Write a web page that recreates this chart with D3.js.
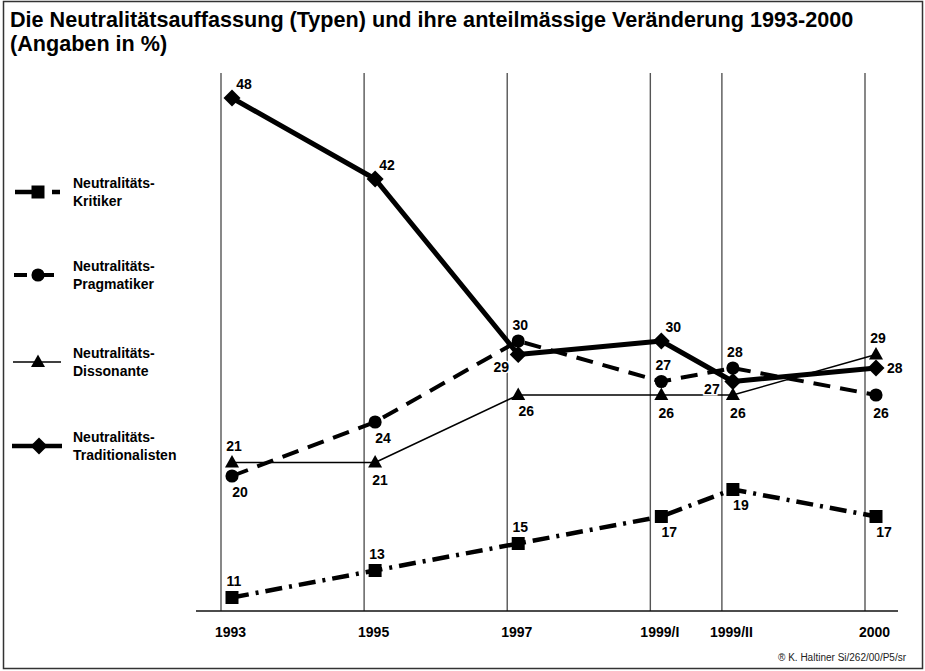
<!DOCTYPE html>
<html lang="de">
<head>
<meta charset="UTF-8">
<title>Neutralitätsauffassung 1993-2000</title>
<style>
  body { margin: 0; background: #fff; }
  svg text { font-family: "Liberation Sans", Arial, sans-serif; }
</style>
</head>
<body>
<div id="chart"></div>
<script src="https://d3js.org/d3.v7.min.js"></script>
<script>
// categories on the x axis and their slot on the (irregular) time line
const categories = ["1993", "1995", "1997", "1999/I", "1999/II", "2000"];
const slots = [0, 2, 4, 6, 7, 9];

// values in %
const kritiker = [11, 13, 15, 17, 19, 17];
const pragmatiker = [20, 24, 30, 27, 28, 26];
const dissonante = [21, 21, 26, 26, 26, 29];
const traditionalisten = [48, 42, 29, 30, 27, 28];

// where each value label sits relative to its marker
const kritikerLabels = ["t", "t", "t", "br", "br", "br"];
const pragmatikerLabels = ["br", "br", "t", "t", "t", "b"];
const dissonanteLabels = ["t", "b", "br", "b", "b", "t"];
const traditionalistenLabels = ["tr", "tr", "bl", "tr", "l", "r"];

const W = 925, H = 671;
const svg = d3.select("#chart").append("svg")
    .attr("width", W).attr("height", H);

svg.append("rect")
    .attr("x", 3.5).attr("y", 1.5)
    .attr("width", W - 6).attr("height", H - 4)
    .attr("fill", "#fff").attr("stroke", "#333").attr("stroke-width", 1.5);

// title
svg.append("text").attr("x", 10).attr("y", 27)
    .attr("font-size", 21.6).attr("font-weight", "bold")
    .text("Die Neutralitätsauffassung (Typen) und ihre anteilmässige Veränderung 1993-2000");
svg.append("text").attr("x", 10).attr("y", 51)
    .attr("font-size", 21.6).attr("font-weight", "bold")
    .text("(Angaben in %)");

const x = d3.scaleLinear().domain([0, 9]).range([221, 865]);
const y = d3.scaleLinear().domain([10, 48]).range([611, 98]);
const markerShift = 11;   // markers sit a little right of the grid lines

// grid lines
svg.append("g").selectAll("line").data(slots).join("line")
    .attr("x1", d => x(d)).attr("x2", d => x(d))
    .attr("y1", 73).attr("y2", y(10))
    .attr("stroke", "#555").attr("stroke-width", 1.4);

// baseline + axis labels
svg.append("line")
    .attr("x1", 196).attr("x2", 898)
    .attr("y1", y(10)).attr("y2", y(10))
    .attr("stroke", "#111").attr("stroke-width", 1.6);

const xAxis = d3.axisBottom(x).tickValues(slots)
    .tickFormat((d, i) => categories[i]).tickSize(0).tickPadding(16);
const ax = svg.append("g")
    .attr("transform", `translate(${markerShift - 2},${y(10)})`)
    .call(xAxis);
ax.select(".domain").remove();
ax.selectAll("text")
    .attr("font-size", 14).attr("font-weight", "bold")
    .attr("font-family", "'Liberation Sans', Arial, sans-serif")
    .attr("fill", "#000");

// marker shapes
const shapes = {
    square: "M-6.5,-6.5H6.5V6.5H-6.5Z",
    circle: d3.symbol(d3.symbolCircle, 135)(),
    triangle: "M0,-7.5L7,5L-7,5Z",
    diamond: "M0,-8.5L8.5,0L0,8.5L-8.5,0Z"
};

const series = [
    { name: "Kritiker", values: kritiker, labels: kritikerLabels, shape: "square", width: 4.5, dash: "17,7,3,7" },
    { name: "Pragmatiker", values: pragmatiker, labels: pragmatikerLabels, shape: "circle", width: 4, dash: "17,10" },
    { name: "Dissonante", values: dissonante, labels: dissonanteLabels, shape: "triangle", width: 1.5, dash: null },
    { name: "Traditionalisten", values: traditionalisten, labels: traditionalistenLabels, shape: "diamond", width: 5, dash: null }
];

const offsets = {
    t: [2, -16], b: [5, 18], br: [8, 16], tr: [12, -14], bl: [-17, 13], l: [-21, 8], r: [20, 0]
};

const line = d3.line()
    .x((d, i) => x(slots[i]) + markerShift)
    .y(d => y(d));

series.forEach(s => {
    const g = svg.append("g");
    g.append("path")
        .attr("d", line(s.values))
        .attr("fill", "none").attr("stroke", "#000")
        .attr("stroke-width", s.width)
        .attr("stroke-dasharray", s.dash)
        .attr("stroke-linejoin", "round");
    g.selectAll(".m").data(s.values).join("path")
        .attr("class", "m")
        .attr("d", shapes[s.shape])
        .attr("transform", (d, i) => `translate(${x(slots[i]) + markerShift},${y(d)})`)
        .attr("fill", "#000");
});

// value labels drawn on top
series.forEach(s => {
    svg.append("g").selectAll("text").data(s.values).join("text")
        .attr("x", (d, i) => x(slots[i]) + markerShift + offsets[s.labels[i]][0])
        .attr("y", (d, i) => y(d) + offsets[s.labels[i]][1])
        .attr("dy", "0.35em")
        .attr("text-anchor", (d, i) => s.labels[i] === "r" ? "start" : "middle")
        .attr("dx", (d, i) => s.labels[i] === "r" ? -9 : 0)
        .attr("font-size", 14).attr("font-weight", "bold")
        .attr("stroke", "#fff").attr("stroke-width", 3)
        .attr("paint-order", "stroke")
        .text(d => d);
});

// legend
const legendY = [192, 275, 362, 446];
const legend = svg.append("g");
series.forEach((s, i) => {
    const ly = legendY[i];
    const g = legend.append("g").attr("transform", `translate(0,${ly})`);
    if (s.shape === "square") {
        g.append("line").attr("x1", 15).attr("x2", 36).attr("stroke-width", 4.5);
        g.append("line").attr("x1", 52).attr("x2", 60).attr("stroke-width", 4.5);
    } else if (s.shape === "circle") {
        g.append("line").attr("x1", 14).attr("x2", 27).attr("stroke-width", 4);
        g.append("line").attr("x1", 40).attr("x2", 54).attr("stroke-width", 4);
    } else if (s.shape === "triangle") {
        g.append("line").attr("x1", 13).attr("x2", 61).attr("stroke-width", 1.5);
    } else {
        g.append("line").attr("x1", 12).attr("x2", 62).attr("stroke-width", 4.5);
    }
    g.selectAll("line").attr("y1", 0).attr("y2", 0).attr("stroke", "#000");
    g.append("path").attr("d", shapes[s.shape])
        .attr("transform", `translate(${s.shape === "diamond" ? 39 : 38},0)`)
        .attr("fill", "#000");
    const t = g.append("text").attr("x", 73)
        .attr("font-size", 14).attr("font-weight", "bold");
    t.append("tspan").attr("x", 73).attr("y", -4).text("Neutralitäts-");
    t.append("tspan").attr("x", 73).attr("y", 13.5).text(s.name);
});

// source
svg.append("text").attr("x", 906).attr("y", 661)
    .attr("text-anchor", "end").attr("font-size", 10).attr("fill", "#222")
    .text("® K. Haltiner Si/262/00/P5/sr");
</script>
</body>
</html>
